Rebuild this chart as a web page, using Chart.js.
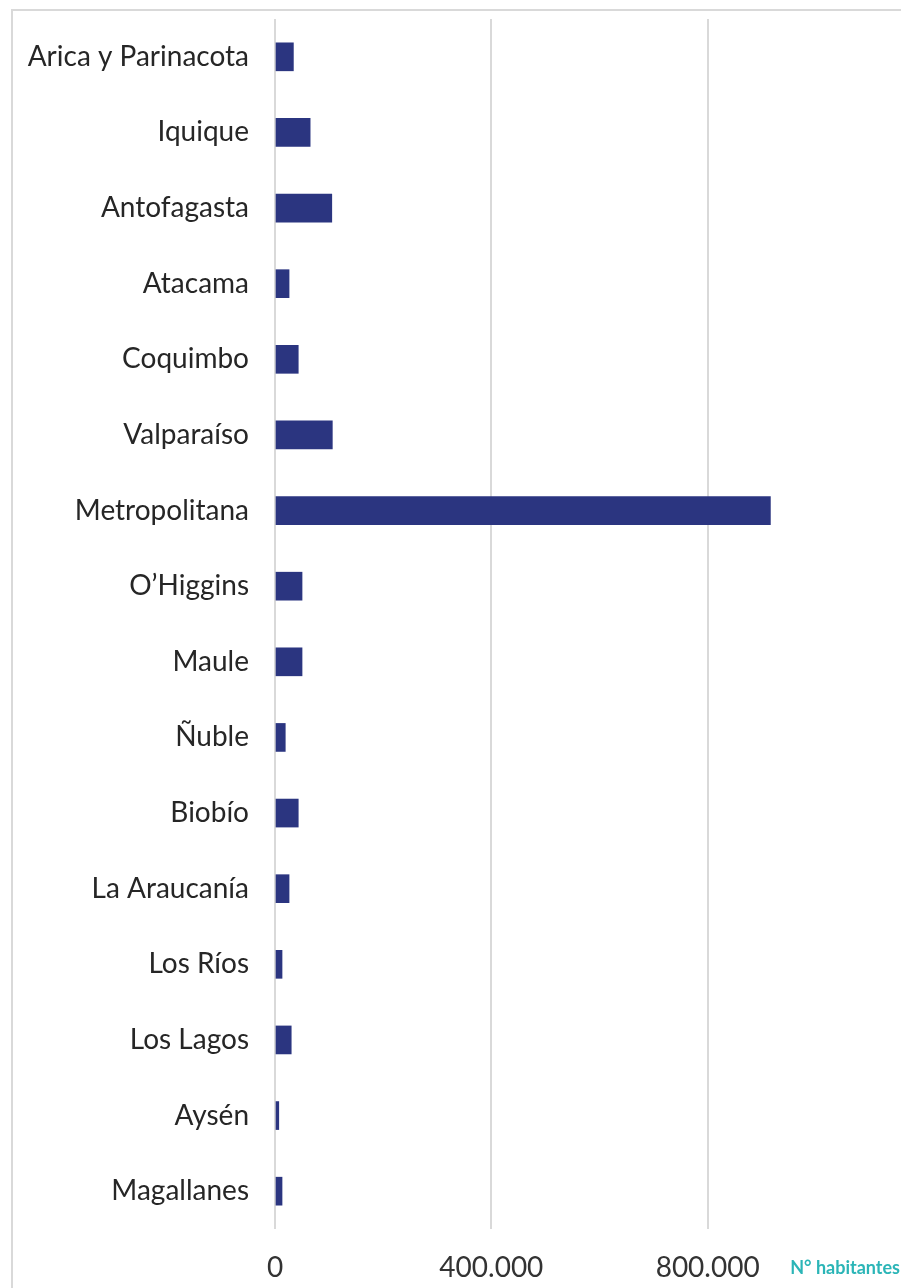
<!DOCTYPE html>
<html lang="es">
<head>
	<meta charset="utf-8">
	<title>Habitantes por región</title>
	<style>
html, body {
	margin: 0;
	padding: 0;
	background: #fff;
	overflow: hidden;
	width: 901px;
	height: 1288px;
}
#frame {
	position: absolute;
	left: 11px;
	top: 9px;
	width: 1000px;
	height: 1400px;
	border-left: 2px solid #d9d9d9;
	border-top: 2px solid #d9d9d9;
}
#chartWrapper {
	position: absolute;
	left: 0;
	top: 0;
	width: 924px;
	height: 1288px;
}
	</style>
</head>
<body>

<div id="frame"></div>
<div id="chartWrapper">
  <canvas id="myChart" width="924" height="1288"></canvas>
</div>

<script src="https://cdn.jsdelivr.net/npm/chart.js"></script>
<script>
const regiones = ['Arica y Parinacota', 'Iquique', 'Antofagasta', 'Atacama', 'Coquimbo', 'Valparaíso',
	'Metropolitana', 'O\u2019Higgins', 'Maule', 'Ñuble', 'Biobío', 'La Araucanía', 'Los Ríos',
	'Los Lagos', 'Aysén', 'Magallanes'];
const habitantes = [34000, 65000, 105000, 26000, 43000, 106000, 916000, 50000, 50000, 19000,
	43000, 26000, 13000, 30000, 7000, 13000];
const ejeMax = 1200000;
const ejePaso = 400000;
const ejeTitulo = 'N° habitantes';

const fontFamily = 'Lato, "Open Sans", sans-serif';

function miles(v) {
	return String(v).replace(/\B(?=(\d{3})+(?!\d))/g, '.');
}

// axis title sitting at the bottom right, next to the tick labels
const tituloEje = {
	id: 'tituloEje',
	afterDraw(chart) {
		const ctx = chart.ctx;
		ctx.save();
		ctx.font = 'bold 18px ' + fontFamily;
		ctx.fillStyle = '#2bb5b7';
		ctx.textAlign = 'right';
		ctx.textBaseline = 'alphabetic';
		ctx.fillText(ejeTitulo, 900, 1274);
		ctx.restore();
	}
};

const ctx = document.getElementById('myChart');

new Chart(ctx, {
	type: 'bar',
	data: {
		labels: regiones,
		datasets: [{
			label: ejeTitulo,
			data: habitantes,
			backgroundColor: '#2b3580',
			barThickness: 28
		}]
	},
	options: {
		indexAxis: 'y',
		responsive: false,
		devicePixelRatio: 1,
		animation: false,
		layout: {
			padding: { top: 19, left: 0, right: 0, bottom: 0 }
		},
		plugins: {
			legend: { display: false },
			tooltip: { enabled: false }
		},
		scales: {
			x: {
				min: 0,
				max: ejeMax,
				afterFit(scale) {
					scale.height = 59;
					scale.paddingLeft = 0;
					scale.paddingRight = 0;
				},
				grid: { color: '#d9d9d9', lineWidth: 2, drawTicks: false },
				border: { display: false },
				ticks: {
					stepSize: ejePaso,
					padding: 22,
					color: '#333333',
					font: { family: fontFamily, size: 28 },
					// the last step falls under the axis title, leave it blank
					callback: v => (v >= ejeMax ? '' : miles(v))
				}
			},
			y: {
				afterFit(scale) {
					scale.width = 275;
					scale.paddingTop = 0;
					scale.paddingBottom = 0;
				},
				grid: { display: false },
				border: { display: false },
				ticks: {
					padding: 18,
					color: '#262626',
					font: { family: fontFamily, size: 28 }
				}
			}
		}
	},
	plugins: [tituloEje]
});
</script>
</body>
</html>
